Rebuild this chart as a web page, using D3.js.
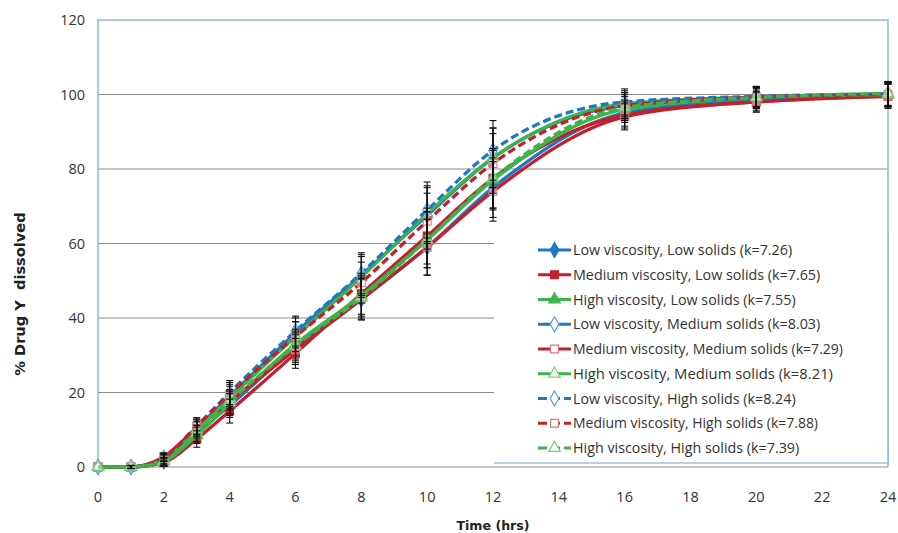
<!DOCTYPE html>
<html lang="en">
<head>
  <meta charset="UTF-8">
  <title>% Drug Y dissolved</title>
  <script src="https://cdn.jsdelivr.net/npm/d3@7"></script>
  <style>
    body {
      margin: 0;
      background: #fff;
      font-family: "Open Sans", sans-serif;
    }
    .tick-label {
      font-size: 14.5px;
      fill: #333;
    }
    .legend-text {
      font-size: 14.3px;
      fill: #333;
    }
    .axis-title {
      font-family: "DejaVu Sans", sans-serif;
      font-weight: bold;
      fill: #222;
      white-space: pre;
    }
  </style>
</head>
<body>
  <svg id="chart" width="898" height="533"></svg>
  <script>
    // sampling times (hrs)
    const times = [0, 1, 2, 3, 4, 6, 8, 10, 12, 16, 20, 24];

    // mean % dissolved per formulation
    const lowVisLowSol  = [0, 0, 1.5, 9.0, 16.5, 32.0, 45.0, 59.0, 75.0, 95.0, 98.5, 99.8];
    const medVisLowSol  = [0, 0, 1.2, 7.5, 15.0, 30.5, 46.5, 62.0, 77.5, 94.5, 98.0, 99.5];
    const highVisLowSol = [0, 0, 1.5, 8.5, 17.0, 33.0, 46.0, 61.0, 77.0, 96.0, 99.0, 100.0];
    const lowVisMedSol  = [0, 0, 2.5, 10.5, 19.0, 36.0, 51.5, 67.5, 83.0, 97.0, 99.0, 100.0];
    const medVisMedSol  = [0, 0, 2.8, 10.5, 17.5, 31.5, 45.0, 59.0, 74.0, 94.0, 98.0, 99.5];
    const highVisMedSol = [0, 0, 2.0, 10.0, 18.5, 35.0, 51.0, 68.0, 83.0, 97.5, 99.3, 100.0];
    const lowVisHighSol = [0, 0, 2.5, 11.0, 20.0, 36.5, 52.0, 69.0, 85.0, 98.0, 99.5, 100.2];
    const medVisHighSol = [0, 0, 2.5, 11.0, 19.5, 35.0, 49.5, 66.0, 81.5, 97.0, 99.3, 100.0];
    const highVisHighSol = [0, 0, 1.5, 9.0, 17.5, 32.5, 45.5, 61.0, 77.5, 96.5, 99.2, 100.3];

    // standard deviation at each time point
    const sdValues = [0, 0.4, 1.0, 2.2, 3.2, 4.0, 5.5, 7.5, 8.0, 3.5, 2.7, 3.2];

    const seriesNames = [
      'Low viscosity, Low solids (k=7.26)',
      'Medium viscosity, Low solids (k=7.65)',
      'High viscosity, Low solids (k=7.55)',
      'Low viscosity, Medium solids (k=8.03)',
      'Medium viscosity, Medium solids (k=7.29)',
      'High viscosity, Medium solids (k=8.21)',
      'Low viscosity, High solids (k=8.24)',
      'Medium viscosity, High solids (k=7.88)',
      'High viscosity, High solids (k=7.39)'
    ];
    const seriesValues = [lowVisLowSol, medVisLowSol, highVisLowSol,
      lowVisMedSol, medVisMedSol, highVisMedSol,
      lowVisHighSol, medVisHighSol, highVisHighSol];

    const yTicks = [0, 20, 40, 60, 80, 100, 120];
    const xTicks = [0, 2, 4, 6, 8, 10, 12, 14, 16, 18, 20, 22, 24];

    // drawing styles, one per series
    const blue = '#1f78c1', red = '#c4202b', green = '#3cb44b';
    const styles = [
      { color: blue,  light: blue,      shape: d3.symbolDiamond,  filled: true,  dash: null },
      { color: red,   light: red,       shape: d3.symbolSquare,   filled: true,  dash: null },
      { color: green, light: green,     shape: d3.symbolTriangle, filled: true,  dash: null },
      { color: blue,  light: '#5aa3dc', shape: d3.symbolDiamond,  filled: false, dash: null },
      { color: red,   light: '#e0767b', shape: d3.symbolSquare,   filled: false, dash: null },
      { color: green, light: '#75cc80', shape: d3.symbolTriangle, filled: false, dash: null },
      { color: blue,  light: '#5aa3dc', shape: d3.symbolDiamond,  filled: false, dash: '8,4' },
      { color: red,   light: '#e0767b', shape: d3.symbolSquare,   filled: false, dash: '8,4' },
      { color: green, light: '#75cc80', shape: d3.symbolTriangle, filled: false, dash: '8,4' }
    ];

    const series = seriesNames.map((name, i) => ({
      name,
      style: styles[i],
      points: times.map((t, j) => ({ t, v: seriesValues[i][j], sd: sdValues[j] }))
    }));

    const plotLeft = 98, plotRight = 888, plotTop = 20, plotBottom = 467;
    const svg = d3.select('#chart');

    const x = d3.scaleLinear().domain([0, 24]).range([plotLeft, plotRight]);
    const y = d3.scaleLinear().domain([0, 120]).range([plotBottom, plotTop]);

    // grid lines
    svg.append('g')
      .selectAll('line')
      .data(yTicks.filter(d => d < 120))
      .join('line')
      .attr('x1', plotLeft).attr('x2', plotRight)
      .attr('y1', d => y(d)).attr('y2', d => y(d))
      .attr('stroke', '#8a8a8a')
      .attr('stroke-width', 1);

    // plot border (top, left, right)
    svg.append('path')
      .attr('d', `M${plotLeft},${plotBottom}V${plotTop}H${plotRight}V${plotBottom}`)
      .attr('fill', 'none')
      .attr('stroke', '#8dbfcd')
      .attr('stroke-width', 1.5);

    // y tick labels
    svg.append('g')
      .selectAll('text')
      .data(yTicks)
      .join('text')
      .attr('class', 'tick-label')
      .attr('x', 85)
      .attr('y', d => y(d))
      .attr('dy', '0.35em')
      .attr('text-anchor', 'end')
      .text(d => d);

    // x tick labels
    svg.append('g')
      .selectAll('text')
      .data(xTicks)
      .join('text')
      .attr('class', 'tick-label')
      .attr('x', d => x(d))
      .attr('y', 502)
      .attr('text-anchor', 'middle')
      .text(d => d);

    // axis titles
    svg.append('text')
      .attr('class', 'axis-title')
      .attr('x', 493)
      .attr('y', 530)
      .attr('text-anchor', 'middle')
      .style('font-size', '12.6px')
      .text('Time (hrs)');

    svg.append('text')
      .attr('class', 'axis-title')
      .attr('transform', 'translate(25,294) rotate(-90)')
      .attr('text-anchor', 'middle')
      .style('font-size', '14.6px')
      .text('% Drug Y  dissolved');

    // legend background covers the grid
    const legendBox = { x0: 494, x1: 888, y0: 232, y1: 463 };
    svg.append('rect')
      .attr('x', legendBox.x0)
      .attr('y', legendBox.y0)
      .attr('width', legendBox.x1 - legendBox.x0)
      .attr('height', legendBox.y1 - legendBox.y0)
      .attr('fill', '#fff');
    svg.append('line')
      .attr('x1', legendBox.x0).attr('x2', legendBox.x1)
      .attr('y1', legendBox.y1).attr('y2', legendBox.y1)
      .attr('stroke', '#9fc3cf')
      .attr('stroke-width', 1.5);
    svg.append('line')
      .attr('x1', plotRight).attr('x2', plotRight)
      .attr('y1', legendBox.y0).attr('y2', legendBox.y1)
      .attr('stroke', '#8dbfcd')
      .attr('stroke-width', 1.5);

    const line = d3.line()
      .x(d => x(d.t))
      .y(d => y(d.v))
      .curve(d3.curveMonotoneX);

    const symbolSize = s => s === d3.symbolTriangle ? 58 : (s === d3.symbolSquare ? 62 : 64);

    // lines and markers, in series order so later ones sit on top
    series.forEach(s => {
      const g = svg.append('g');
      g.append('path')
        .datum(s.points)
        .attr('d', line)
        .attr('fill', 'none')
        .attr('stroke', s.style.color)
        .attr('stroke-width', 3.3)
        .attr('stroke-dasharray', s.style.dash);

      g.selectAll('path.marker')
        .data(s.points)
        .join('path')
        .attr('class', 'marker')
        .attr('transform', d => `translate(${x(d.t)},${y(d.v)})`)
        .attr('d', d3.symbol().type(s.style.shape).size(symbolSize(s.style.shape)))
        .attr('fill', s.style.filled ? s.style.color : '#fff')
        .attr('fill-opacity', s.style.filled ? 1 : 0.4)
        .attr('stroke', s.style.light)
        .attr('stroke-width', 1.1);
    });

    // error bars
    const cap = 3.5;
    series.forEach(s => {
      const eg = svg.append('g')
        .attr('stroke', '#111')
        .attr('stroke-width', 1.1)
        .selectAll('g')
        .data(s.points.filter(d => d.sd > 0))
        .join('g');
      eg.append('line')
        .attr('x1', d => x(d.t)).attr('x2', d => x(d.t))
        .attr('y1', d => y(d.v + d.sd)).attr('y2', d => y(d.v - d.sd));
      eg.append('line')
        .attr('x1', d => x(d.t) - cap).attr('x2', d => x(d.t) + cap)
        .attr('y1', d => y(d.v + d.sd)).attr('y2', d => y(d.v + d.sd));
      eg.append('line')
        .attr('x1', d => x(d.t) - cap).attr('x2', d => x(d.t) + cap)
        .attr('y1', d => y(d.v - d.sd)).attr('y2', d => y(d.v - d.sd));
    });

    // legend entries
    const legendFits = [null, null, null, null, 270, 260, null, 245, null];
    const legend = svg.append('g')
      .selectAll('g')
      .data(series)
      .join('g')
      .attr('transform', (d, i) => `translate(0,${250 + i * 24.75})`);

    legend.append('line')
      .attr('x1', 538).attr('x2', 571)
      .attr('stroke', d => d.style.color)
      .attr('stroke-width', 3.2)
      .attr('stroke-dasharray', d => d.style.dash ? '9,4' : null);

    legend.append('path')
      .attr('transform', 'translate(554.5,0)')
      .attr('d', d => d3.symbol().type(d.style.shape).size(symbolSize(d.style.shape))())
      .attr('fill', d => d.style.filled ? d.style.color : '#fff')
      .attr('stroke', d => d.style.light)
      .attr('stroke-width', 1.2);

    legend.append('text')
      .attr('class', 'legend-text')
      .attr('x', 573)
      .attr('dy', '0.35em')
      .attr('textLength', (d, i) => legendFits[i])
      .attr('lengthAdjust', 'spacingAndGlyphs')
      .text(d => d.name);
  </script>
</body>
</html>
